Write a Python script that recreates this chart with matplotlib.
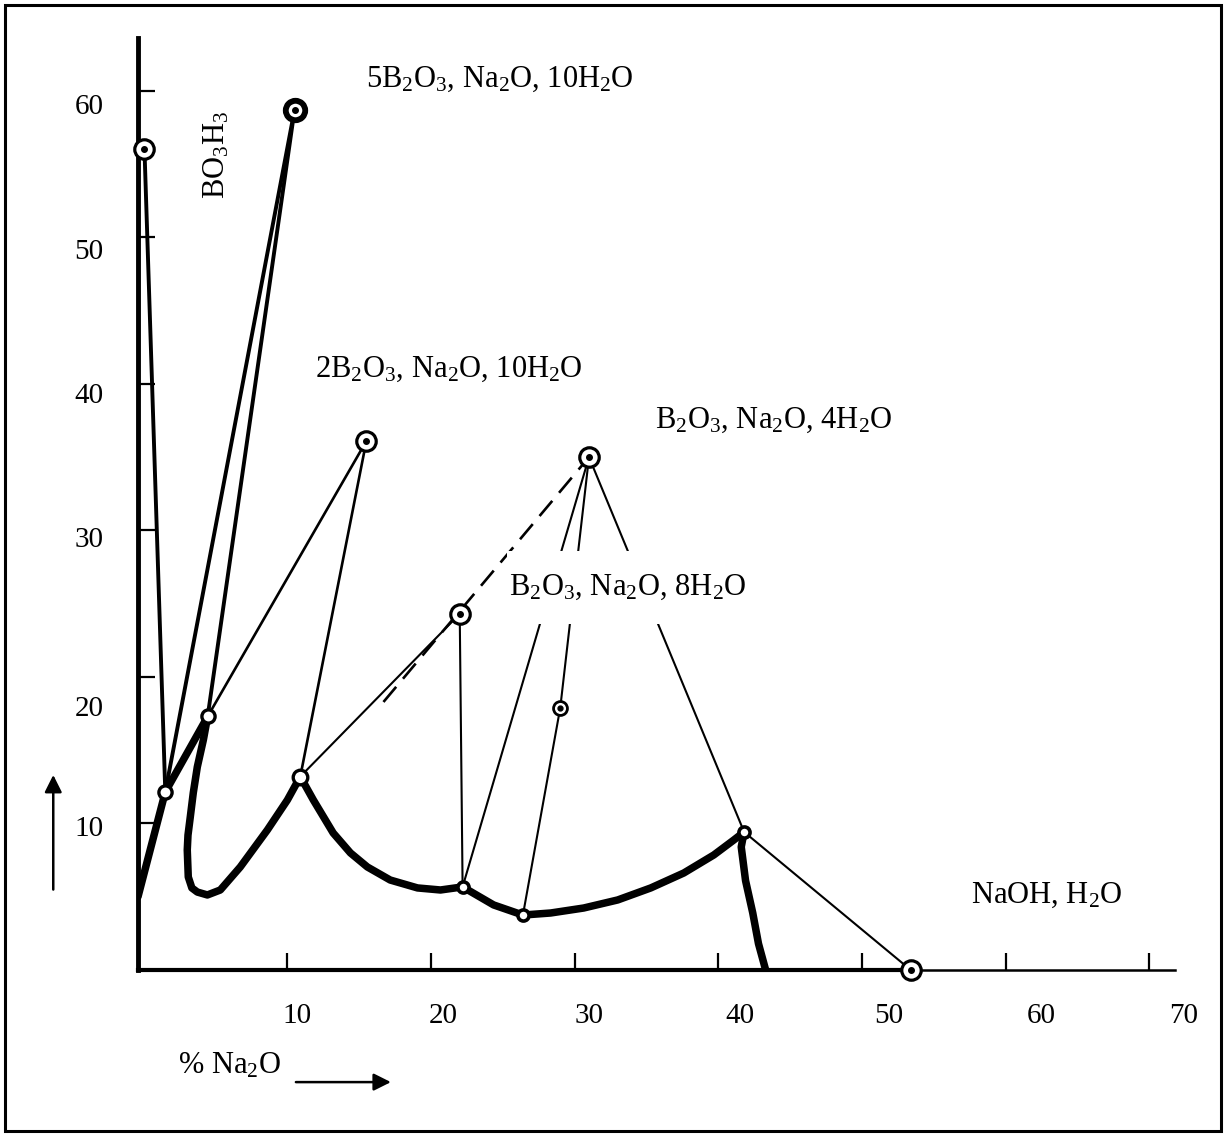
import numpy as np
import matplotlib.pyplot as plt
import matplotlib.transforms as mtransforms
from matplotlib.path import Path
from matplotlib.patches import Rectangle

plt.rcParams['font.family'] = ['Liberation Serif', 'DejaVu Serif']
plt.rcParams['mathtext.fontset'] = 'custom'
plt.rcParams['mathtext.rm'] = 'Liberation Serif'
plt.rcParams['mathtext.it'] = 'Liberation Serif:italic'
plt.rcParams['mathtext.bf'] = 'Liberation Serif:bold'

# Points of the diagram: x = % Na2O, y = % B2O3
node_names = ['BO3H3', '5B2O3', 'c1', 'c2', 'c3', '2B2O3', '8H2O', '4H2O',
              'mid', 'c4', 'c5', 'c6', 'NaOH']
node_x = [0.05, 10.5, 1.5, 4.45, 10.9, 15.5, 22.0, 31.0, 29.0, 22.2, 26.4, 41.8, 53.4]
node_y = [56.0, 58.7, 12.15, 17.3, 13.2, 36.1, 24.3, 35.0, 17.9, 5.67, 3.75, 9.42, 0.0]

# Thick solubility curve, in pieces
liq1_x = [-0.4, 1.5, 4.45]
liq1_y = [5.0, 12.15, 17.3]
liq2_x = [4.45, 4.15, 3.73, 3.45, 3.24, 3.08, 3.03, 3.10, 3.35, 3.73, 4.43, 5.33, 6.72, 8.61, 10.0, 10.9]
liq2_y = [17.3, 15.7, 13.86, 12.1, 10.44, 9.2, 8.19, 6.35, 5.6, 5.32, 5.12, 5.46, 7.03, 9.56, 11.6, 13.2]
liq3_x = [10.9, 11.81, 13.19, 14.39, 15.57, 17.16, 19.06, 20.66, 22.2]
liq3_y = [13.2, 11.6, 9.35, 7.99, 7.03, 6.14, 5.6, 5.46, 5.67]
liq4_x = [22.2, 24.36, 26.4]
liq4_y = [5.67, 4.44, 3.75]
liq5_x = [26.4, 28.33, 30.63, 33.0, 35.3, 37.6, 39.69, 41.08, 41.8]
liq5_y = [3.75, 3.89, 4.23, 4.78, 5.6, 6.62, 7.85, 8.87, 9.42]
liq6_x = [41.8, 41.6, 41.9, 42.4, 42.8, 43.3]
liq6_y = [9.42, 8.4, 6.1, 3.9, 1.8, 0.0]

# Tie lines between nodes: (from, to, weight)
ties = [('BO3H3', 'c1', 'heavy'), ('5B2O3', 'c1', 'heavy'), ('5B2O3', 'c2', 'heavy'),
        ('2B2O3', 'c2', 'mid'), ('2B2O3', 'c3', 'mid'), ('c3', '8H2O', 'thin'),
        ('8H2O', 'c4', 'thin'), ('4H2O', 'c4', 'thin'), ('4H2O', 'mid', 'thin'),
        ('mid', 'c5', 'thin'), ('4H2O', 'c6', 'thin'), ('c6', 'NaOH', 'thin')]
# dashed metastable line
dash_x = [16.69, 31.0]
dash_y = [18.29, 35.0]

xticks = [10, 20, 30, 40, 50, 60, 70]
yticks = [10, 20, 30, 40, 50, 60]

labels = [r'5B$_2$O$_3$, Na$_2$O, 10H$_2$O', r'BO$_3$H$_3$',
          r'2B$_2$O$_3$, Na$_2$O, 10H$_2$O', r'B$_2$O$_3$, Na$_2$O, 4H$_2$O',
          r'B$_2$O$_3$, Na$_2$O, 8H$_2$O', r'NaOH, H$_2$O']

W, H = 1227, 1135
fig = plt.figure(figsize=(W / 100, H / 100), dpi=100)
ax = fig.add_axes([138 / W, 1 - 970 / H, (1175 - 138) / W, (970 - 38) / H])
ax.set_xlim(-0.4, 71.8)
ax.set_ylim(0, 63.6)

for s in ['top', 'right']:
    ax.spines[s].set_visible(False)
ax.spines['left'].set_linewidth(3.5)
ax.spines['bottom'].set_linewidth(1.8)

fs = 22
ax.set_xticks(xticks)
ax.set_yticks(yticks)
ax.set_xticklabels([str(v) for v in xticks])
ax.set_yticklabels([str(v) for v in yticks])
ax.tick_params(direction='in', length=12.5, width=1.6, labelsize=21)
ax.tick_params(axis='x', pad=24)
ax.tick_params(axis='y', pad=25)

# the scanned labels sit a little off their ticks
x_shift = [10, 12, 14, 22, 27, 36, 34]
y_shift = [3, 29, 7, 9, 12, 13]
for lab, dx in zip(ax.get_xticklabels(), x_shift):
    lab.set_transform(lab.get_transform() + mtransforms.ScaledTranslation(dx / 100, 0, fig.dpi_scale_trans))
for lab, dy in zip(ax.get_yticklabels(), y_shift):
    lab.set_transform(lab.get_transform() + mtransforms.ScaledTranslation(0, -dy / 100, fig.dpi_scale_trans))

idx = {n: i for i, n in enumerate(node_names)}

# heavier part of the base line up to NaOH,H2O
ax.plot([-0.4, node_x[idx['NaOH']]], [0, 0], color='black', lw=3, clip_on=False, zorder=2)

# solubility curve
for cx, cy in [(liq1_x, liq1_y), (liq2_x, liq2_y), (liq3_x, liq3_y),
               (liq4_x, liq4_y), (liq5_x, liq5_y), (liq6_x, liq6_y)]:
    ax.plot(cx, cy, color='black', lw=5.4, solid_joinstyle='round',
            solid_capstyle='round', zorder=3)

widths = {'heavy': 2.8, 'mid': 1.9, 'thin': 1.5}
for a, b, w in ties:
    ax.plot([node_x[idx[a]], node_x[idx[b]]], [node_y[idx[a]], node_y[idx[b]]],
            color='black', lw=widths[w], zorder=2)
ax.plot(dash_x, dash_y, color='black', lw=1.9, dashes=(7.5, 4), zorder=2)

# node markers
ring_dot = ['BO3H3', '2B2O3', '8H2O', '4H2O', 'NaOH']
for n in ring_dot:
    ax.plot(node_x[idx[n]], node_y[idx[n]], 'o', ms=14, mew=2.3, mfc='white',
            mec='black', zorder=5, clip_on=False)
    ax.plot(node_x[idx[n]], node_y[idx[n]], 'o', ms=4, color='black', zorder=6, clip_on=False)
n = '5B2O3'
ax.plot(node_x[idx[n]], node_y[idx[n]], 'o', ms=14, mew=4.2, mfc='white', mec='black', zorder=5)
ax.plot(node_x[idx[n]], node_y[idx[n]], 'o', ms=4, color='black', zorder=6)
for n, ms in [('c1', 9.5), ('c2', 9.5), ('c3', 10.5)]:
    ax.plot(node_x[idx[n]], node_y[idx[n]], 'o', ms=ms, mew=2.4, mfc='white', mec='black', zorder=5)
n = 'mid'
ax.plot(node_x[idx[n]], node_y[idx[n]], 'o', ms=10, mew=2, mfc='white', mec='black', zorder=5)
ax.plot(node_x[idx[n]], node_y[idx[n]], 'o', ms=3.5, color='black', zorder=6)
for n in ['c4', 'c5', 'c6']:
    ax.plot(node_x[idx[n]], node_y[idx[n]], 'o', ms=8, mew=2.6, mfc='white', mec='black', zorder=5)


def tall_box(x0, y0, width, height, mutation_size):
    # white mask taller than the text, so the tie lines break around the label
    px = 0.05 * mutation_size
    py = 0.7 * mutation_size
    x0, y0 = x0 - px, y0 - py
    x1, y1 = x0 + width + 2 * px, y0 + height + 2 * py
    return Path([(x0, y0), (x1, y0), (x1, y1), (x0, y1), (x0, y0)], closed=True)


ax.text(15.44, 60.75, labels[0], fontsize=fs, ha='left', va='center')
ax.text(5.05, 55.6, labels[1], fontsize=fs, ha='center', va='center', rotation=90)
ax.text(11.95, 40.96, labels[2], fontsize=fs, ha='left', va='center')
ax.text(35.6, 37.5, labels[3], fontsize=fs, ha='left', va='center')
ax.text(25.4, 26.1, labels[4], fontsize=fs, ha='left', va='center', zorder=4,
        bbox=dict(boxstyle=tall_box, fc='white', ec='none'))
ax.text(57.6, 5.1, labels[5], fontsize=fs, ha='left', va='center')

# axis captions with arrows
ax.text(2.4, -6.5, r'% Na$_2$O', fontsize=fs, ha='left', va='center', clip_on=False)
ax.annotate('', xy=(17.4, -7.65), xytext=(10.4, -7.65), annotation_clip=False,
            arrowprops=dict(arrowstyle='-|>', lw=1.8, color='black', mutation_scale=26))
ax.annotate('', xy=(-6.3, 13.5), xytext=(-6.3, 5.3), annotation_clip=False,
            arrowprops=dict(arrowstyle='-|>', lw=1.8, color='black', mutation_scale=26))

# frame round the whole figure
fig.add_artist(Rectangle((5 / W, 4 / H), (1221 - 5) / W, (1131 - 5) / H,
                         transform=fig.transFigure, fill=False, lw=2.2, ec='black'))

fig.savefig('out.png', dpi=100)
